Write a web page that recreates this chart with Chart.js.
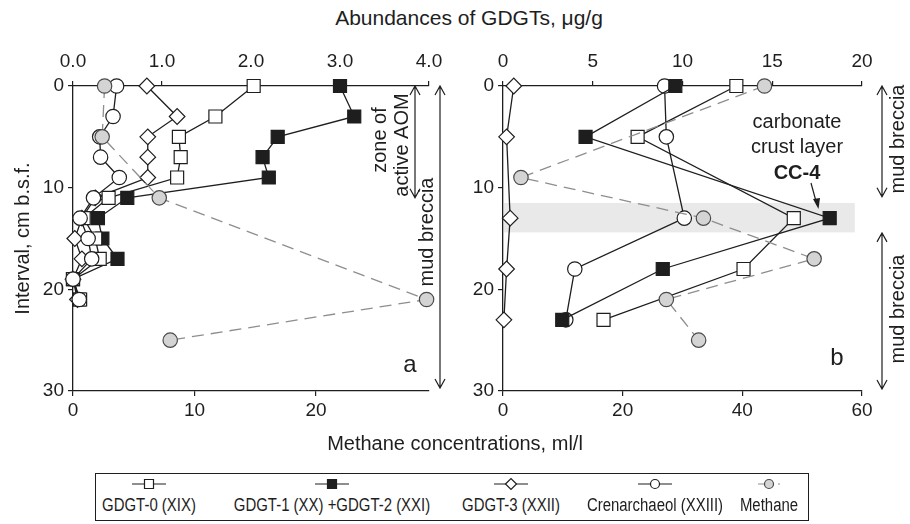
<!DOCTYPE html>
<html lang="en">
<head>
<meta charset="UTF-8" />
<title>GDGTs and methane, cores a and b</title>
<script src="https://cdn.jsdelivr.net/npm/chart.js"></script>
<style>
  body { margin: 0; background: #fff; font-family: "Liberation Sans", Arial, sans-serif; color: #1e1e1e; }
  .wrap { position: relative; width: 910px; height: 524px; overflow: hidden; }
  #chartA { position: absolute; left: 0; top: 0; }
  #chartB { position: absolute; left: 460px; top: 0; }
  .title { position: absolute; font-size: 20px; line-height: 24px; white-space: nowrap; transform: translateX(-50%); }
  .legend { position: absolute; left: 95px; top: 473px; width: 712px; height: 46px; border: 1px solid #1e1e1e; }
  .item { position: absolute; top: 3px; width: 300px; margin-left: -150px; text-align: center; }
  .item canvas { display: block; margin: 0 auto; }
  .item span { display: block; font-size: 18px; line-height: 22px; white-space: nowrap; transform: scaleX(0.83); margin-top: 3px; }
</style>
</head>
<body>
<div class="wrap">
  <div class="title" style="left:469px; top:6px; font-size:21px;">Abundances of GDGTs, μg/g</div>
  <canvas id="chartA" width="460" height="440"></canvas>
  <canvas id="chartB" width="450" height="440"></canvas>
  <div class="title" style="left:455px; top:431px;">Methane concentrations, ml/l</div>
  <div class="legend" id="legend"></div>
</div>

<script>
// panel a (GDGTs in ug/g, methane in ml/l, depth in cm)
const depthA  = [0, 3, 5, 7, 9, 11, 13, 15, 17, 19, 21];
const gdgt0A  = [2.03, 1.6, 1.19, 1.21, 1.17, 0.4, 0.12, 0.25, 0.3, 0.0, 0.08];
const gdgt12A = [3.0, 3.16, 2.3, 2.13, 2.2, 0.61, 0.28, 0.33, 0.5, 0.0, 0.07];
const gdgt3A  = [0.83, 1.17, 0.84, 0.84, 0.84, 0.25, 0.1, 0.02, 0.1, 0.0, 0.05];
const crenA   = [0.49, 0.45, 0.3, 0.31, 0.52, 0.23, 0.08, 0.17, 0.21, 0.0, 0.07];
const methDepthA = [0, 5, 11, 21, 25];
const methaneA   = [2.6, 2.4, 7.1, 29.1, 8.0];

// panel b
const depthB  = [0, 5, 13, 18, 23];
const gdgt0B  = [13.0, 7.5, 16.2, 13.4, 5.6];
const gdgt12B = [9.6, 4.6, 18.2, 8.9, 3.3];
const gdgt3B  = [0.6, 0.2, 0.4, 0.2, 0.05];
const crenB   = [9.0, 9.1, 10.1, 4.0, 3.5];
const methDepthB = [0, 9, 13, 17, 21, 25];
const methaneB   = [43.7, 3.0, 33.5, 52.0, 27.3, 32.7];

const depthTicks = [0, 10, 20, 30];

const INK = '#1e1e1e';
const FONT = '"Liberation Sans", Arial, sans-serif';
Chart.defaults.font.family = FONT;
Chart.defaults.color = INK;

const styles = {
  gdgt0:   { pointStyle: 'rect',    pointRadius: 9.2, fill: '#fff' },
  gdgt12:  { pointStyle: 'rect',    pointRadius: 9.2, fill: INK },
  gdgt3:   { pointStyle: 'rectRot', pointRadius: 7.8, fill: '#fff' },
  cren:    { pointStyle: 'circle',  pointRadius: 7.2, fill: '#fff' },
  methane: { pointStyle: 'circle',  pointRadius: 7.2, fill: '#d4d4d4' }
};

function pts(xs, ys) {
  return xs.map((v, i) => ({ x: v, y: ys[i] }));
}

function series(key, xs, ys, xAxisID, order) {
  const s = styles[key];
  const meth = key === 'methane';
  return {
    data: pts(xs, ys),
    xAxisID: xAxisID,
    yAxisID: 'y',
    order: order,
    showLine: true,
    clip: false,
    borderColor: meth ? '#8e8e8e' : INK,
    borderWidth: 1.3,
    borderDash: meth ? [12, 7] : [],
    pointStyle: s.pointStyle,
    pointRadius: s.pointRadius,
    pointHoverRadius: s.pointRadius,
    pointBackgroundColor: s.fill,
    pointBorderColor: meth ? '#4a4a4a' : INK,
    pointBorderWidth: 1.2
  };
}

function axisLook(extra) {
  return Object.assign({
    type: 'linear',
    grid: { display: true, drawOnChartArea: false, tickLength: 5, color: INK, lineWidth: 1.2 },
    border: { display: true, color: INK, width: 1.3 },
  }, extra);
}

function depthAxis(width, withTitle) {
  return axisLook({
    position: 'left',
    reverse: true,
    min: 0, max: 30,
    afterBuildTicks: s => { s.ticks = depthTicks.map(v => ({ value: v })); },
    afterFit: s => { s.width = width; },
    ticks: { font: { size: 19 }, padding: 4, color: INK },
    title: { display: withTitle, text: 'Interval, cm b.s.f.', font: { size: 20 }, color: INK, padding: { top: 11, bottom: 0 } }
  });
}

// double headed vertical arrow with open heads
function vArrow(ctx, x, y0, y1) {
  ctx.beginPath();
  ctx.moveTo(x, y0); ctx.lineTo(x, y1);
  ctx.moveTo(x - 5, y0 + 9); ctx.lineTo(x, y0); ctx.lineTo(x + 5, y0 + 9);
  ctx.moveTo(x - 5, y1 - 9); ctx.lineTo(x, y1); ctx.lineTo(x + 5, y1 - 9);
  ctx.stroke();
}

function vText(ctx, txt, x, y, size) {
  ctx.save();
  ctx.translate(x, y);
  ctx.rotate(-Math.PI / 2);
  ctx.font = (size || 20) + 'px ' + FONT;
  ctx.textAlign = 'center';
  ctx.textBaseline = 'middle';
  ctx.fillText(txt, 0, 0);
  ctx.restore();
}

const notesA = {
  id: 'notesA',
  afterDraw(chart) {
    const { ctx, chartArea: a, scales: { y } } = chart;
    ctx.save();
    ctx.strokeStyle = INK; ctx.fillStyle = INK; ctx.lineWidth = 1.2;
    vArrow(ctx, a.right - 14, y.getPixelForValue(0), y.getPixelForValue(11));
    vArrow(ctx, a.right + 11, y.getPixelForValue(0), y.getPixelForValue(29.7));
    vText(ctx, 'zone of', a.right - 49, 140);
    vText(ctx, 'active AOM', a.right - 27, 145);
    vText(ctx, 'mud breccia', a.right - 2, 232);
    ctx.font = '24px ' + FONT;
    ctx.textAlign = 'center'; ctx.textBaseline = 'middle';
    ctx.fillText('a', a.right - 19, 365);
    ctx.restore();
  }
};

const notesB = {
  id: 'notesB',
  beforeDraw(chart) {
    const { ctx, chartArea: a, scales: { y, xTop } } = chart;
    const top = y.getPixelForValue(11.5), bot = y.getPixelForValue(14.4);
    ctx.save();
    ctx.fillStyle = '#e9e9e9';
    ctx.fillRect(a.left + 1, top, xTop.getPixelForValue(19.6) - a.left - 1, bot - top);
    ctx.restore();
  },
  afterDraw(chart) {
    const { ctx, chartArea: a, scales: { y } } = chart;
    ctx.save();
    ctx.strokeStyle = INK; ctx.fillStyle = INK; ctx.lineWidth = 1.2;
    ctx.textAlign = 'center'; ctx.textBaseline = 'middle';
    ctx.font = '20px ' + FONT;
    ctx.fillText('carbonate', 337, 122);
    ctx.fillText('crust layer', 337, 147);
    ctx.font = 'bold 20px ' + FONT;
    ctx.fillText('CC-4', 337, 173);
    // pointer to the crust sample
    ctx.beginPath(); ctx.moveTo(351, 183); ctx.lineTo(357, 205); ctx.stroke();
    ctx.beginPath(); ctx.moveTo(358.5, 209); ctx.lineTo(353, 199); ctx.lineTo(360, 198); ctx.closePath(); ctx.fill();
    vArrow(ctx, a.right + 20, y.getPixelForValue(0), y.getPixelForValue(10.9));
    vArrow(ctx, a.right + 20, y.getPixelForValue(14.45), y.getPixelForValue(29.8));
    vText(ctx, 'mud breccia', a.right + 36, 139);
    vText(ctx, 'mud breccia', a.right + 36, 309);
    ctx.font = '24px ' + FONT;
    ctx.fillText('b', a.right - 25, 358);
    ctx.restore();
  }
};

const common = {
  responsive: false,
  animation: false,
  devicePixelRatio: 1,
  plugins: { legend: { display: false }, tooltip: { enabled: false } },
  events: []
};

new Chart(document.getElementById('chartA'), {
  type: 'scatter',
  data: {
    datasets: [
      series('methane', methaneA, methDepthA, 'xBot', 0),
      series('cren', crenA, depthA, 'xTop', 1),
      series('gdgt0', gdgt0A, depthA, 'xTop', 2),
      series('gdgt12', gdgt12A, depthA, 'xTop', 3),
      series('gdgt3', gdgt3A, depthA, 'xTop', 4)
    ]
  },
  options: Object.assign({}, common, {
    layout: { padding: { left: 0, right: 31, top: 0, bottom: 0 } },
    scales: {
      xTop: axisLook({
        position: 'top', min: 0, max: 4,
        afterFit: s => { s.height = 86; },
        ticks: { stepSize: 1, callback: v => v.toFixed(1), font: { size: 19 }, padding: 8, color: INK, maxRotation: 0 }
      }),
      xBot: axisLook({
        position: 'bottom', min: 0, max: 29.3,
        afterBuildTicks: s => { s.ticks = s.ticks.filter(t => t.value % 10 === 0); },
        afterFit: s => { s.height = 49; },
        ticks: { stepSize: 10, font: { size: 19 }, padding: 3, color: INK, maxRotation: 0 }
      }),
      y: depthAxis(73, true)
    }
  }),
  plugins: [notesA]
});

new Chart(document.getElementById('chartB'), {
  type: 'scatter',
  data: {
    datasets: [
      series('methane', methaneB, methDepthB, 'xBot', 0),
      series('gdgt12', gdgt12B, depthB, 'xTop', 1),
      series('cren', crenB, depthB, 'xTop', 2),
      series('gdgt0', gdgt0B, depthB, 'xTop', 3),
      series('gdgt3', gdgt3B, depthB, 'xTop', 4)
    ]
  },
  options: Object.assign({}, common, {
    layout: { padding: { left: 0, right: 48, top: 0, bottom: 0 } },
    scales: {
      xTop: axisLook({
        position: 'top', min: 0, max: 20,
        afterFit: s => { s.height = 86; },
        ticks: { stepSize: 5, font: { size: 19 }, padding: 8, color: INK, maxRotation: 0 }
      }),
      xBot: axisLook({
        position: 'bottom', min: 0, max: 60,
        afterFit: s => { s.height = 49; },
        ticks: { stepSize: 20, font: { size: 19 }, padding: 3, color: INK, maxRotation: 0 }
      }),
      y: depthAxis(43, false)
    }
  }),
  plugins: [notesB]
});

// legend
const legendItems = [
  { key: 'gdgt0',   label: 'GDGT-0 (XIX)',               x: 53 },
  { key: 'gdgt12',  label: 'GDGT-1 (XX) +GDGT-2 (XXI)',  x: 236 },
  { key: 'gdgt3',   label: 'GDGT-3 (XXII)',              x: 415 },
  { key: 'cren',    label: 'Crenarchaeol (XXIII)',       x: 559 },
  { key: 'methane', label: 'Methane',                    x: 673 }
];

function drawKey(cv, key) {
  const c = cv.getContext('2d');
  const w = cv.width, cy = cv.height / 2, cx = w / 2;
  const meth = key === 'methane';
  c.lineWidth = 1.2;
  c.strokeStyle = meth ? '#8e8e8e' : INK;
  if (meth) c.setLineDash([6, 4]);
  c.beginPath(); c.moveTo(meth ? 8 : 2, cy); c.lineTo(meth ? w - 8 : w - 2, cy); c.stroke();
  c.setLineDash([]);
  c.fillStyle = styles[key].fill;
  c.strokeStyle = meth ? '#4a4a4a' : INK;
  c.beginPath();
  const r = 4.5;
  if (styles[key].pointStyle === 'rect') c.rect(cx - r, cy - r, 2 * r, 2 * r);
  else if (styles[key].pointStyle === 'rectRot') { c.moveTo(cx - 5.5, cy); c.lineTo(cx, cy - 5.5); c.lineTo(cx + 5.5, cy); c.lineTo(cx, cy + 5.5); c.closePath(); }
  else c.arc(cx, cy, r, 0, Math.PI * 2);
  c.fill(); c.stroke();
}

const legend = document.getElementById('legend');
legendItems.forEach(it => {
  const d = document.createElement('div');
  d.className = 'item';
  d.style.left = it.x + 'px';
  const cv = document.createElement('canvas');
  cv.width = 38; cv.height = 14;
  d.appendChild(cv);
  const sp = document.createElement('span');
  sp.textContent = it.label;
  d.appendChild(sp);
  legend.appendChild(d);
  drawKey(cv, it.key);
});
</script>
</body>
</html>
